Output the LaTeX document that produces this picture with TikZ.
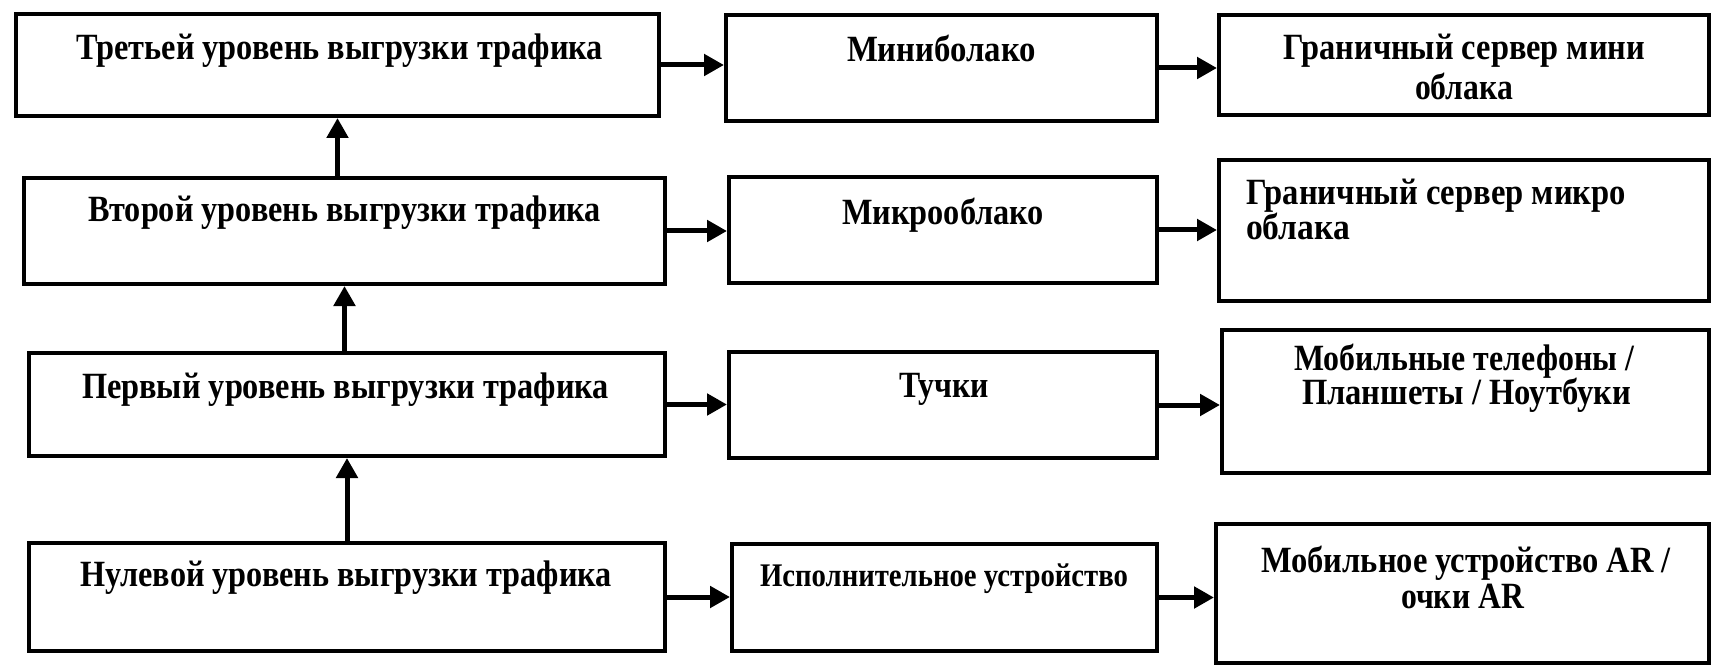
\documentclass[tikz,border=0pt]{standalone}
\usepackage{fontspec}
\setmainfont{Liberation Serif}
\usepackage{graphicx}
\usetikzlibrary{arrows.meta}

% Set a line of text and squeeze it horizontally to a given width (in pt)
\newcommand\fitw[2]{%
  \setbox0=\hbox{#2}%
  \pgfmathsetmacro\fitratio{#1/\the\wd0}%
  \scalebox{\fitratio}[1]{\box0}}

\tikzset{
  box/.style={draw=black, line width=4pt, rectangle, inner sep=0pt},
  lbl/.style={inner sep=0pt, outer sep=0pt, anchor=base west,
    font=\fontsize{37}{40}\selectfont\bfseries},
  smalllbl/.style={lbl, font=\fontsize{33}{36}\selectfont\bfseries},
  arr/.style={line width=5pt, -{Triangle[length=20pt, width=21pt]}},
}

\begin{document}
\begin{tikzpicture}[x=1pt, y=-1pt]
\useasboundingbox (0,0) rectangle (1715,668);

% left column: offloading levels
\node[box, minimum width=643, minimum height=102] (l3) at (337.5,65) {};
\node[box, minimum width=641, minimum height=106] (l2) at (344.5,231) {};
\node[box, minimum width=636, minimum height=103] (l1) at (347,404.5) {};
\node[box, minimum width=636, minimum height=108] (l0) at (347,597) {};

% middle column
\node[box, minimum width=431, minimum height=106] (m3) at (941.5,68) {};
\node[box, minimum width=428, minimum height=106] (m2) at (943,230) {};
\node[box, minimum width=428, minimum height=106] (m1) at (943,405) {};
\node[box, minimum width=425, minimum height=107] (m0) at (944.5,597.5) {};

% right column
\node[box, minimum width=490, minimum height=100] (r3) at (1464,65) {};
\node[box, minimum width=490, minimum height=141] (r2) at (1464,230.5) {};
\node[box, minimum width=487, minimum height=143] (r1) at (1465.5,401.5) {};
\node[box, minimum width=493, minimum height=139] (r0) at (1462.5,593.5) {};

% texts
\node[lbl] (t3) at (76,60) {\fitw{527}{Третьей уровень выгрузки трафика}};
\node[lbl] (t2) at (88,222) {\fitw{513}{Второй уровень выгрузки трафика}};
\node[lbl] (t1) at (82,398) {\fitw{527}{Первый уровень выгрузки трафика}};
\node[lbl] (t0) at (80,586) {\fitw{532}{Нулевой уровень выгрузки трафика}};

\node[lbl] (tm3) at (847,62) {\fitw{189}{Миниболако}};
\node[lbl] (tm2) at (842,225) {\fitw{202}{Микрооблако}};
\node[lbl] (tm1) at (899,397) {\fitw{90}{Тучки}};
\node[smalllbl] (tm0) at (760,586) {\fitw{368}{Исполнительное устройство}};

\node[lbl] (tr3a) at (1283,60) {\fitw{362}{Граничный сервер мини}};
\node[lbl] (tr3b) at (1415,100) {\fitw{98}{облака}};
\node[lbl] (tr2a) at (1246,205) {\fitw{380}{Граничный сервер микро}};
\node[lbl] (tr2b) at (1246,240) {\fitw{104}{облака}};
\node[lbl] (tr1a) at (1294,370) {\fitw{340}{Мобильные телефоны /}};
\node[lbl] (tr1b) at (1302,404) {\fitw{329}{Планшеты / Ноутбуки}};
\node[lbl] (tr0a) at (1261,572) {\fitw{410}{Мобильное устройство AR /}};
\node[lbl] (tr0b) at (1401,608) {\fitw{123}{очки AR}};

% upward arrows between levels
\draw[arr] (l2.north -| l3.south) -- (l3.south);
\draw[arr] (l1.north -| l2.south) -- (l2.south);
\draw[arr] (l0.north) -- (l0.north |- l1.south);

% rightward arrows
\draw[arr] (l3.east) -- (l3.east -| m3.west);
\draw[arr] (l2.east) -- (l2.east -| m2.west);
\draw[arr] (l1.east) -- (l1.east -| m1.west);
\draw[arr] (l0.east) -- (l0.east -| m0.west);

\draw[arr] (m3.east) -- (m3.east -| r3.west);
\draw[arr] (m2.east) -- (m2.east -| r2.west);
\draw[arr] (m1.east) -- (m1.east -| r1.west);
\draw[arr] (m0.east) -- (m0.east -| r0.west);
\end{tikzpicture}
\end{document}
